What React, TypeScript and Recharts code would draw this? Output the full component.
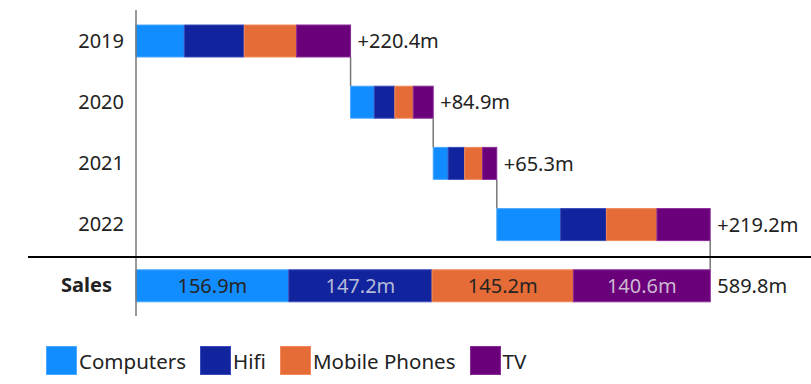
import React from 'react';
import { BarChart, Bar, XAxis, YAxis, LabelList } from 'recharts';

const categories = ['2019', '2020', '2021', '2022', 'Sales'];
const computers = [49.6, 24.3, 15.3, 65.5, 156.9];
const hifi = [61.6, 21.2, 17.0, 47.1, 147.2];
const mobile = [53.8, 18.9, 18.4, 51.9, 145.2];
const tv = [55.4, 20.5, 14.6, 54.7, 140.6];
const totals = [220.4, 84.9, 65.3, 219.2, 589.8];

const seriesNames = ['Computers', 'Hifi', 'Mobile Phones', 'TV'];
const colors = ['#118DFF', '#12239E', '#E66C37', '#6B007B'];
const borders = ['#4AA8FF', '#3A4AB8', '#F08A5C', '#8A2A99'];
const innerText = ['#252423', '#B4BAD8', '#252423', '#CDB8D0'];

const FONT = '"Noto Sans", sans-serif';
const ROW_STEP = 61;
const BAR_SIZE = 32;

const totalIndex = categories.length - 1;
let running = 0;
const data = categories.map((name, i) => {
  const isTotal = i === totalIndex;
  const offset = isTotal ? 0 : running;
  if (!isTotal) running += totals[i];
  return {
    name,
    offset,
    computers: computers[i],
    hifi: hifi[i],
    mobile: mobile[i],
    tv: tv[i],
    label: isTotal ? `${totals[i].toFixed(1)}m` : `+${totals[i].toFixed(1)}m`,
    computersIn: isTotal ? `${computers[i].toFixed(1)}m` : undefined,
    hifiIn: isTotal ? `${hifi[i].toFixed(1)}m` : undefined,
    mobileIn: isTotal ? `${mobile[i].toFixed(1)}m` : undefined,
    tvIn: isTotal ? `${tv[i].toFixed(1)}m` : undefined,
  };
});

const YTick = (props: any) => {
  const { x, y, payload } = props;
  const isTotal = payload.value === 'Sales';
  return (
    <g>
      {isTotal && (
        <line x1={28} x2={811} y1={y - ROW_STEP / 2 + 2} y2={y - ROW_STEP / 2 + 2} stroke="#000" strokeWidth={2} />
      )}
      <text
        x={isTotal ? x - 16 : x - 4}
        y={y}
        dy={7}
        textAnchor="end"
        fontFamily={FONT}
        fontSize={20}
        fontWeight={isTotal ? 700 : 400}
        fill="#222"
      >
        {payload.value}
      </text>
    </g>
  );
};

const LastSegment = (props: any) => {
  const { x, y, width, height, index } = props;
  return (
    <g>
      <rect x={x} y={y} width={width} height={height} fill={colors[3]} stroke={borders[3]} strokeWidth={1} />
      {index < totalIndex && (
        <line
          x1={x + width}
          x2={x + width}
          y1={y + height}
          y2={y + height + ROW_STEP - BAR_SIZE}
          stroke="#777"
          strokeWidth={1.5}
        />
      )}
    </g>
  );
};

const keys = ['computers', 'hifi', 'mobile', 'tv'];

export default function App() {
  return (
    <div style={{ position: 'absolute', left: 0, top: 0, width: 811, height: 384, fontFamily: FONT }}>
      <BarChart
        width={811}
        height={384}
        data={data}
        layout="vertical"
        margin={{ top: 10, right: 13, bottom: 68, left: 0 }}
        barSize={BAR_SIZE}
      >
        <XAxis type="number" hide domain={[0, 680]} />
        <YAxis
          type="category"
          dataKey="name"
          width={136}
          tickLine={false}
          axisLine={{ stroke: '#777', strokeWidth: 1.5 }}
          tick={<YTick />}
          interval={0}
        />
        <Bar dataKey="offset" stackId="a" fill="transparent" isAnimationActive={false} />
        {keys.map((k, i) => (
          <Bar
            key={k}
            dataKey={k}
            stackId="a"
            fill={colors[i]}
            stroke={borders[i]}
            strokeWidth={1}
            isAnimationActive={false}
            shape={i === 3 ? <LastSegment /> : undefined}
          >
            <LabelList
              dataKey={`${k}In`}
              position="center"
              fill={innerText[i]}
              fontSize={20}
              fontFamily={FONT}
            />
            {i === 3 && (
              <LabelList dataKey="label" position="right" offset={7} fill="#222" fontSize={20} fontFamily={FONT} />
            )}
          </Bar>
        ))}
      </BarChart>
      <div
        style={{
          position: 'absolute',
          left: 46,
          top: 346,
          display: 'flex',
          alignItems: 'center',
          fontSize: 20.5,
          color: '#222',
          lineHeight: '28px',
        }}
      >
        {seriesNames.map((n, i) => (
          <div key={n} style={{ display: 'flex', alignItems: 'center', marginRight: 14 }}>
            <div
              style={{
                width: 29,
                height: 27,
                background: colors[i],
                border: `1px solid ${borders[i]}`,
                marginRight: 2,
              }}
            />
            <span>{n}</span>
          </div>
        ))}
      </div>
    </div>
  );
}
